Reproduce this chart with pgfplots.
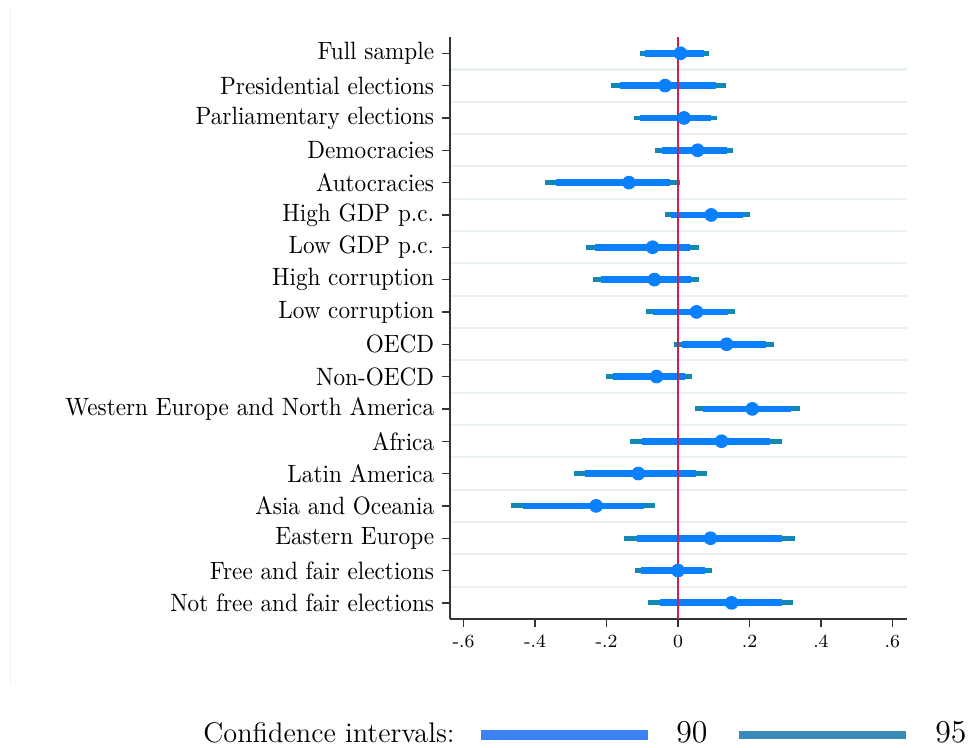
\documentclass[border=0pt]{standalone}
\usepackage{pgfplots}
\pgfplotsset{compat=1.18}
\usepackage{pgfplotstable}
\definecolor{cninety}{RGB}{10,128,255}
\definecolor{cnf}{RGB}{16,138,180}
\definecolor{cred}{RGB}{214,28,72}
\definecolor{cgrid}{RGB}{233,240,242}
\definecolor{lninety}{RGB}{59,130,246}
\definecolor{lnf}{RGB}{58,138,186}
\pgfplotstableread{
row est lo95 hi95 lo90 hi90
1 0.007 -0.107 0.088 -0.091 0.074
2 -0.036 -0.187 0.134 -0.162 0.107
3 0.017 -0.123 0.109 -0.107 0.092
4 0.055 -0.063 0.154 -0.046 0.137
5 -0.137 -0.372 0.007 -0.342 -0.022
6 0.093 -0.036 0.201 -0.019 0.181
7 -0.071 -0.257 0.059 -0.232 0.034
8 -0.066 -0.239 0.058 -0.215 0.036
9 0.052 -0.089 0.160 -0.069 0.139
10 0.136 -0.010 0.268 0.011 0.246
11 -0.060 -0.202 0.038 -0.183 0.020
12 0.208 0.047 0.341 0.071 0.317
13 0.122 -0.134 0.292 -0.100 0.258
14 -0.111 -0.290 0.080 -0.260 0.050
15 -0.229 -0.466 -0.063 -0.435 -0.095
16 0.091 -0.151 0.328 -0.114 0.290
17 0.000 -0.121 0.094 -0.104 0.076
18 0.150 -0.083 0.323 -0.050 0.291
}\cidata
\begin{document}
\begin{tikzpicture}
\path[use as bounding box] (-193.95pt,-55.2pt) rectangle (223.7pt,266.8pt);
\draw[cgrid, line width=0.5pt] (-189.6pt,262.5pt) -- (-189.6pt,-27.6pt);
\begin{axis}[
  at={(0,0)}, anchor=south west,
  scale only axis, width=197pt, height=250.8pt,
  xmin=-0.638, xmax=0.641, ymin=0.5, ymax=18.5, y dir=reverse,
  axis x line*=bottom, axis y line*=left,
  axis line style={line width=0.6pt, black!80},
  xtick={-0.6,-0.4,-0.2,0,0.2,0.4,0.6},
  xticklabels={-.6,-.4,-.2,0,.2,.4,.6},
  ytick={1,2,3,4,5,6,7,8,9,10,11,12,13,14,15,16,17,18},
  yticklabels={Full sample,Presidential elections,Parliamentary elections,Democracies,Autocracies,High GDP p.c.,Low GDP p.c.,High corruption,Low corruption,OECD,Non-OECD,Western Europe and North America,Africa,Latin America,Asia and Oceania,Eastern Europe,Free and fair elections,Not free and fair elections},
  tick align=outside, major tick length=3.3pt,
  tick style={line width=0.6pt, black!80},
  xticklabel style={font=\footnotesize},
  yticklabel style={yscale=1.08},
  minor ytick={1.5,2.5,3.5,4.5,5.5,6.5,7.5,8.5,9.5,10.5,11.5,12.5,13.5,14.5,15.5,16.5,17.5},
  yminorgrids, minor grid style={cgrid, line width=0.9pt}, minor tick length=0pt,
  clip=false,
]
\addplot[only marks, mark=none, forget plot,
  error bars/.cd, x dir=both, x explicit, error mark=none,
  error bar style={line width=2.1pt, draw=cnf}]
  table[x=est, y=row, x error plus expr=\thisrow{hi95}-\thisrow{est}, x error minus expr=\thisrow{est}-\thisrow{lo95}] {\cidata};
\addplot[only marks, mark=none, forget plot,
  error bars/.cd, x dir=both, x explicit, error mark=none,
  error bar style={line width=2.9pt, draw=cninety}]
  table[x=est, y=row, x error plus expr=\thisrow{hi90}-\thisrow{est}, x error minus expr=\thisrow{est}-\thisrow{lo90}] {\cidata};
\addplot[cred, line width=0.9pt, forget plot] coordinates {(0,0.5) (0,18.5)};
\addplot[only marks, mark=*, mark size=2.75pt, color=cninety, mark options={draw=none, fill=cninety}, forget plot]
  table[x=est, y=row] {\cidata};
\end{axis}
\node[anchor=base east, inner sep=0pt, font=\fontsize{12.2}{14}\selectfont] at (2.2pt,-53.2pt) {Confidence intervals:};
\draw[lninety, line width=4.7pt] (13.4pt,-50pt) -- (85.3pt,-50pt);
\node[anchor=base, inner sep=0pt, font=\fontsize{13.7}{16}\selectfont] at (104.3pt,-53.4pt) {90};
\draw[lnf, line width=3.4pt] (124.6pt,-50pt) -- (196.5pt,-50pt);
\node[anchor=base, inner sep=0pt, font=\fontsize{13.7}{16}\selectfont] at (215.9pt,-53.4pt) {95};
\end{tikzpicture}
\end{document}
